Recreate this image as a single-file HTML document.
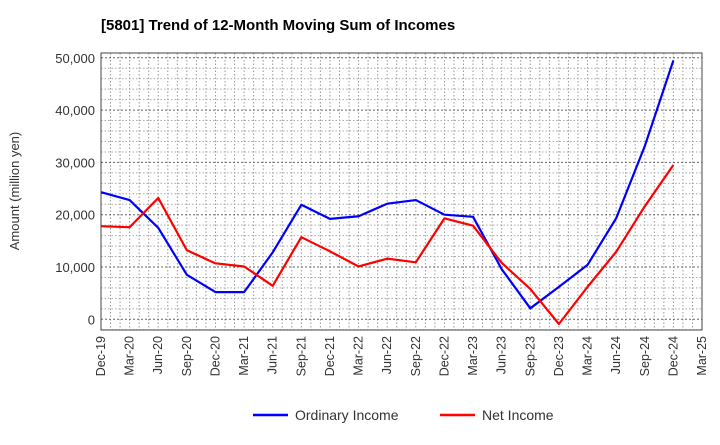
<!DOCTYPE html>
<html><head><meta charset="utf-8"><style>
body{margin:0;background:#fff;font-family:"Liberation Sans",sans-serif}
</style></head><body>
<svg id="chart" width="720" height="440" xmlns="http://www.w3.org/2000/svg">
<text x="101" y="30" font-size="15" font-weight="bold" fill="#000">[5801]  Trend of 12-Month Moving Sum of Incomes</text>
<g id="grid"></g>
<g id="axes"></g>
<g id="series"></g>
<text transform="translate(19,191) rotate(-90)" text-anchor="middle" font-size="13" fill="#333">Amount (million yen)</text>
<g>
<line x1="253" y1="415" x2="288" y2="415" stroke="#0000ff" stroke-width="2.5"/>
<text x="295" y="420" font-size="14" fill="#333">Ordinary Income</text>
<line x1="440" y1="415" x2="475" y2="415" stroke="#ff0000" stroke-width="2.5"/>
<text x="482" y="420" font-size="14" fill="#333">Net Income</text>
</g>
</svg>
<script>
const xLabels=["Dec-19","Mar-20","Jun-20","Sep-20","Dec-20","Mar-21","Jun-21","Sep-21","Dec-21","Mar-22","Jun-22","Sep-22","Dec-22","Mar-23","Jun-23","Sep-23","Dec-23","Mar-24","Jun-24","Sep-24","Dec-24","Mar-25"];
const yTicks=[0,10000,20000,30000,40000,50000];
const ordinaryIncome=[24300,22800,17500,8500,5200,5200,12800,21900,19200,19700,22100,22800,20000,19600,9600,2100,6200,10400,19300,33100,49500];
const netIncome=[17800,17600,23200,13200,10700,10100,6400,15700,13000,10100,11600,10900,19300,17900,10800,5800,-900,6200,12900,21600,29500];
const NS="http://www.w3.org/2000/svg";
const L=101,R=702,T=53,B=330;
const xs=i=>L+i*(R-L)/(xLabels.length-1);
const ys=v=>319.3-v*(261.5/50000);
function mk(tag,attrs,parent){const e=document.createElementNS(NS,tag);for(const k in attrs)e.setAttribute(k,attrs[k]);parent.appendChild(e);return e;}
const grid=document.getElementById('grid'),axes=document.getElementById('axes'),series=document.getElementById('series');
for(let m=1;m<(xLabels.length-1)*3;m++){const x=L+m*(R-L)/((xLabels.length-1)*3);
const g=mk('line',{x1:x,x2:x,y1:T,y2:B,stroke:'#999','stroke-width':1,'stroke-dasharray':'1.5,2'},grid);

}
for(let v=-2000;v<=52000;v+=2000){const y=ys(v);if(y<T||y>B)continue;
const major=v%10000===0;
const g=mk('line',{x1:L,x2:R,y1:y,y2:y,stroke:major?'#666':'#aaa','stroke-width':1,'stroke-dasharray':major?'2,2':'1.5,2'},grid);

}
const fr=mk('rect',{x:L,y:T,width:R-L,height:B-T,fill:'none',stroke:'#444','stroke-width':1},axes);


yTicks.forEach(v=>{const t=mk('text',{x:L-6,y:ys(v)+5,'text-anchor':'end','font-size':13,fill:'#333'},axes);t.textContent=v.toLocaleString('en-US');

});
xLabels.forEach((s,i)=>{const x=xs(i);const t=mk('text',{transform:`translate(${x+4},${B+6}) rotate(-90)`,'text-anchor':'end','font-size':12.5,fill:'#333'},axes);t.textContent=s;

});
function line(data,color,name){const p=mk('polyline',{points:data.map((v,i)=>xs(i)+','+ys(v)).join(' '),fill:'none',stroke:color,'stroke-width':2.2,'stroke-linejoin':'round'},series);

}
line(ordinaryIncome,'#0000ff','ordinary-income-line');
line(netIncome,'#ff0000','net-income-line');
</script>
</body></html>
